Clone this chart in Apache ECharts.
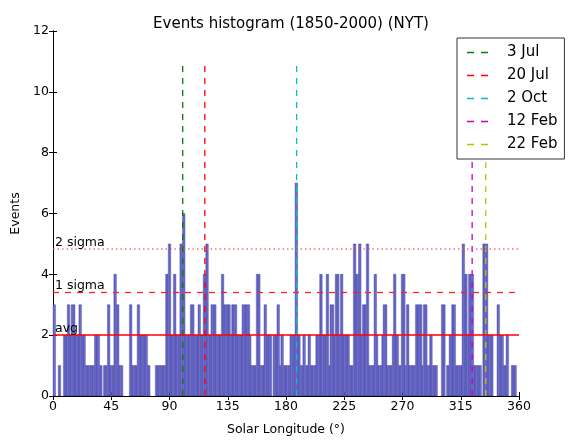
<!DOCTYPE html>
<html>
<head>
<meta charset="utf-8">
<script src="https://cdn.jsdelivr.net/npm/echarts@6/dist/echarts.min.js"></script>
<style>
html,body{margin:0;padding:0;background:#fff;}
#chart{width:568px;height:441px;}
</style>
</head>
<body>
<div id="chart"></div>
<script>
// ---- data ----
const binWidth = 1; // degrees per bin, bins start at 0
const counts = [
3,3,0,0,1,1,0,0,2,2,
2,3,3,2,3,3,3,2,2,2,
3,3,2,2,2,1,1,1,1,1,
1,1,2,2,2,2,1,1,0,1,
1,1,3,3,1,1,1,4,4,3,
3,1,1,1,0,0,0,0,0,3,
3,1,1,1,1,3,3,2,2,2,
2,2,2,1,1,0,0,0,0,1,
1,1,1,1,1,1,1,4,4,5,
5,2,2,4,4,2,2,2,5,5,
6,6,2,2,2,2,3,3,3,2,
2,2,3,3,2,2,4,4,5,5,
2,2,3,3,3,3,2,2,2,2,
4,4,3,3,3,3,3,2,3,3,
3,3,2,2,2,2,3,3,3,3,
3,3,2,1,1,1,1,4,4,4,
1,1,1,3,3,2,2,2,2,0,
2,2,2,3,3,1,2,2,1,1,
1,1,1,2,2,2,2,7,7,2,
2,1,1,2,2,1,1,2,2,1,
1,1,1,2,2,2,4,4,2,2,
2,4,4,1,3,3,3,2,4,4,
4,2,4,4,2,2,2,2,2,1,
1,1,5,5,4,4,5,5,2,3,
3,3,5,5,1,1,1,1,4,4,
2,1,1,1,2,3,3,3,1,1,
1,1,2,4,4,2,2,1,1,4,
4,4,1,3,3,1,1,1,1,1,
3,3,3,3,3,1,3,3,3,1,
1,2,2,1,1,1,1,0,0,0,
3,3,3,0,1,1,2,2,3,3,
3,1,1,1,1,1,5,5,4,4,
2,4,4,4,4,1,1,1,1,1,
1,0,5,5,5,5,2,2,2,2,
0,0,0,3,3,2,2,2,1,1,
2,2,0,0,1,1,1,1,0,0
];
const eventNames = ['3 Jul', '20 Jul', '2 Oct', '12 Feb', '22 Feb'];
const eventLongitudes = [100.2, 117.3, 188.2, 323.8, 334.3];
const eventColors = ['#008000', '#ff0000', '#00bfbf', '#bf00bf', '#bfbf00'];
const eventLineTop = 11;
const avgValue = 2.0;
const sigma1Value = 3.42;
const sigma2Value = 4.84;
const xTicks = [0, 45, 90, 135, 180, 225, 270, 315, 360];
const yTicks = [0, 2, 4, 6, 8, 10, 12];

// ---- chart ----
const chart = echarts.init(document.getElementById('chart'), null, {renderer: 'canvas'});
const FONT = 'DejaVu Sans';

const barData = counts.map((c, i) => [i * binWidth, c]);

const eventSeries = eventNames.map((name, k) => ({
  name: name,
  type: 'line',
  symbol: 'none',
  data: [[eventLongitudes[k], 0], [eventLongitudes[k], eventLineTop]],
  lineStyle: {color: eventColors[k], width: 1.3, type: [6, 6]},
  itemStyle: {color: eventColors[k]},
  z: 3,
  silent: true
}));

const option = {
  animation: false,
  backgroundColor: '#fff',
  title: {
    text: 'Events histogram (1850-2000) (NYT)',
    left: 286, textAlign: 'center', top: 12,
    textStyle: {fontFamily: FONT, fontSize: 15, fontWeight: 'normal', color: '#000'}
  },
  legend: {
    data: eventNames,
    orient: 'vertical',
    left: 457, top: 38,
    z: 20,
    padding: [7, 7, 7, 10],
    itemGap: 8,
    itemWidth: 21, itemHeight: 14,
    backgroundColor: '#fff',
    borderColor: '#333', borderWidth: 1, borderRadius: 0,
    textStyle: {fontFamily: FONT, fontSize: 15, color: '#000', padding: [0, 0, 0, 14]},
    icon: 'path://M0,0 L7,0 L7,1.3 L0,1.3 Z M14,0 L21,0 L21,1.3 L14,1.3 Z'
  },
  grid: {left: 53, right: 49, top: 31, bottom: 38, containLabel: false},
  xAxis: [{
    type: 'value', min: xTicks[0], max: xTicks[xTicks.length - 1], interval: 45,
    name: 'Solar Longitude (°)', nameLocation: 'middle', nameGap: 27,
    nameTextStyle: {fontFamily: FONT, fontSize: 12.5, color: '#000'},
    axisLine: {show: true, lineStyle: {color: '#000', width: 1}},
    axisTick: {show: true, inside: true, length: 4, lineStyle: {color: '#000'}},
    axisLabel: {fontFamily: FONT, fontSize: 12.5, color: '#000', margin: 4},
    splitLine: {show: false}
  }, {
    type: 'value', position: 'top', min: 0, max: 360, interval: 45,
    axisLine: {show: true, lineStyle: {color: '#000', width: 1}},
    axisTick: {show: true, inside: true, length: 4, lineStyle: {color: '#000'}},
    axisLabel: {show: false}, splitLine: {show: false}
  }],
  yAxis: [{
    type: 'value', min: yTicks[0], max: yTicks[yTicks.length - 1], interval: 2,
    name: 'Events', nameLocation: 'middle', nameGap: 26,
    nameTextStyle: {fontFamily: FONT, fontSize: 12.5, color: '#000'},
    axisLine: {show: true, lineStyle: {color: '#000', width: 1}},
    axisTick: {show: true, inside: true, length: 4, lineStyle: {color: '#000'}},
    axisLabel: {fontFamily: FONT, fontSize: 12.5, color: '#000', margin: 4},
    splitLine: {show: false}
  }, {
    type: 'value', position: 'right', min: 0, max: 12, interval: 2,
    axisLine: {show: true, lineStyle: {color: '#000', width: 1}},
    axisTick: {show: true, inside: true, length: 4, lineStyle: {color: '#000'}},
    axisLabel: {show: false}, splitLine: {show: false}
  }],
  series: [{
    name: 'hist',
    type: 'custom',
    data: barData,
    encode: {x: 0, y: 1},
    z: 2,
    renderItem: function (params, api) {
      const x0 = api.value(0);
      const v = api.value(1);
      if (!v) return null;
      const p0 = api.coord([x0, v]);
      const p1 = api.coord([x0 + binWidth, 0]);
      return {
        type: 'rect',
        shape: {x: p0[0], y: p0[1], width: p1[0] - p0[0], height: p1[1] - p0[1]},
        style: {fill: '#7a7af2', stroke: 'rgba(10,10,70,0.55)', lineWidth: 0.5}
      };
    },
    silent: true
  },
  ...eventSeries,
  {
    name: 'refs',
    type: 'line',
    data: [],
    silent: true,
    markLine: {
      symbol: 'none',
      silent: true,
      animation: false,
      data: [
        {yAxis: avgValue, lineStyle: {color: '#ff0000', width: 1.5, type: 'solid'},
         label: {formatter: 'avg'}},
        {yAxis: sigma1Value, lineStyle: {color: '#ff2020', width: 1.3, type: [6, 6]},
         label: {formatter: '1 sigma'}},
        {yAxis: sigma2Value, lineStyle: {color: 'rgba(255,60,60,0.75)', width: 1.5, type: [1.5, 3]},
         label: {formatter: '2 sigma'}}
      ],
      label: {
        show: true, position: 'insideStartTop', distance: [2, 0],
        fontFamily: FONT, fontSize: 12.5, color: '#000'
      }
    }
  }]
};
chart.setOption(option);
</script>
</body>
</html>
